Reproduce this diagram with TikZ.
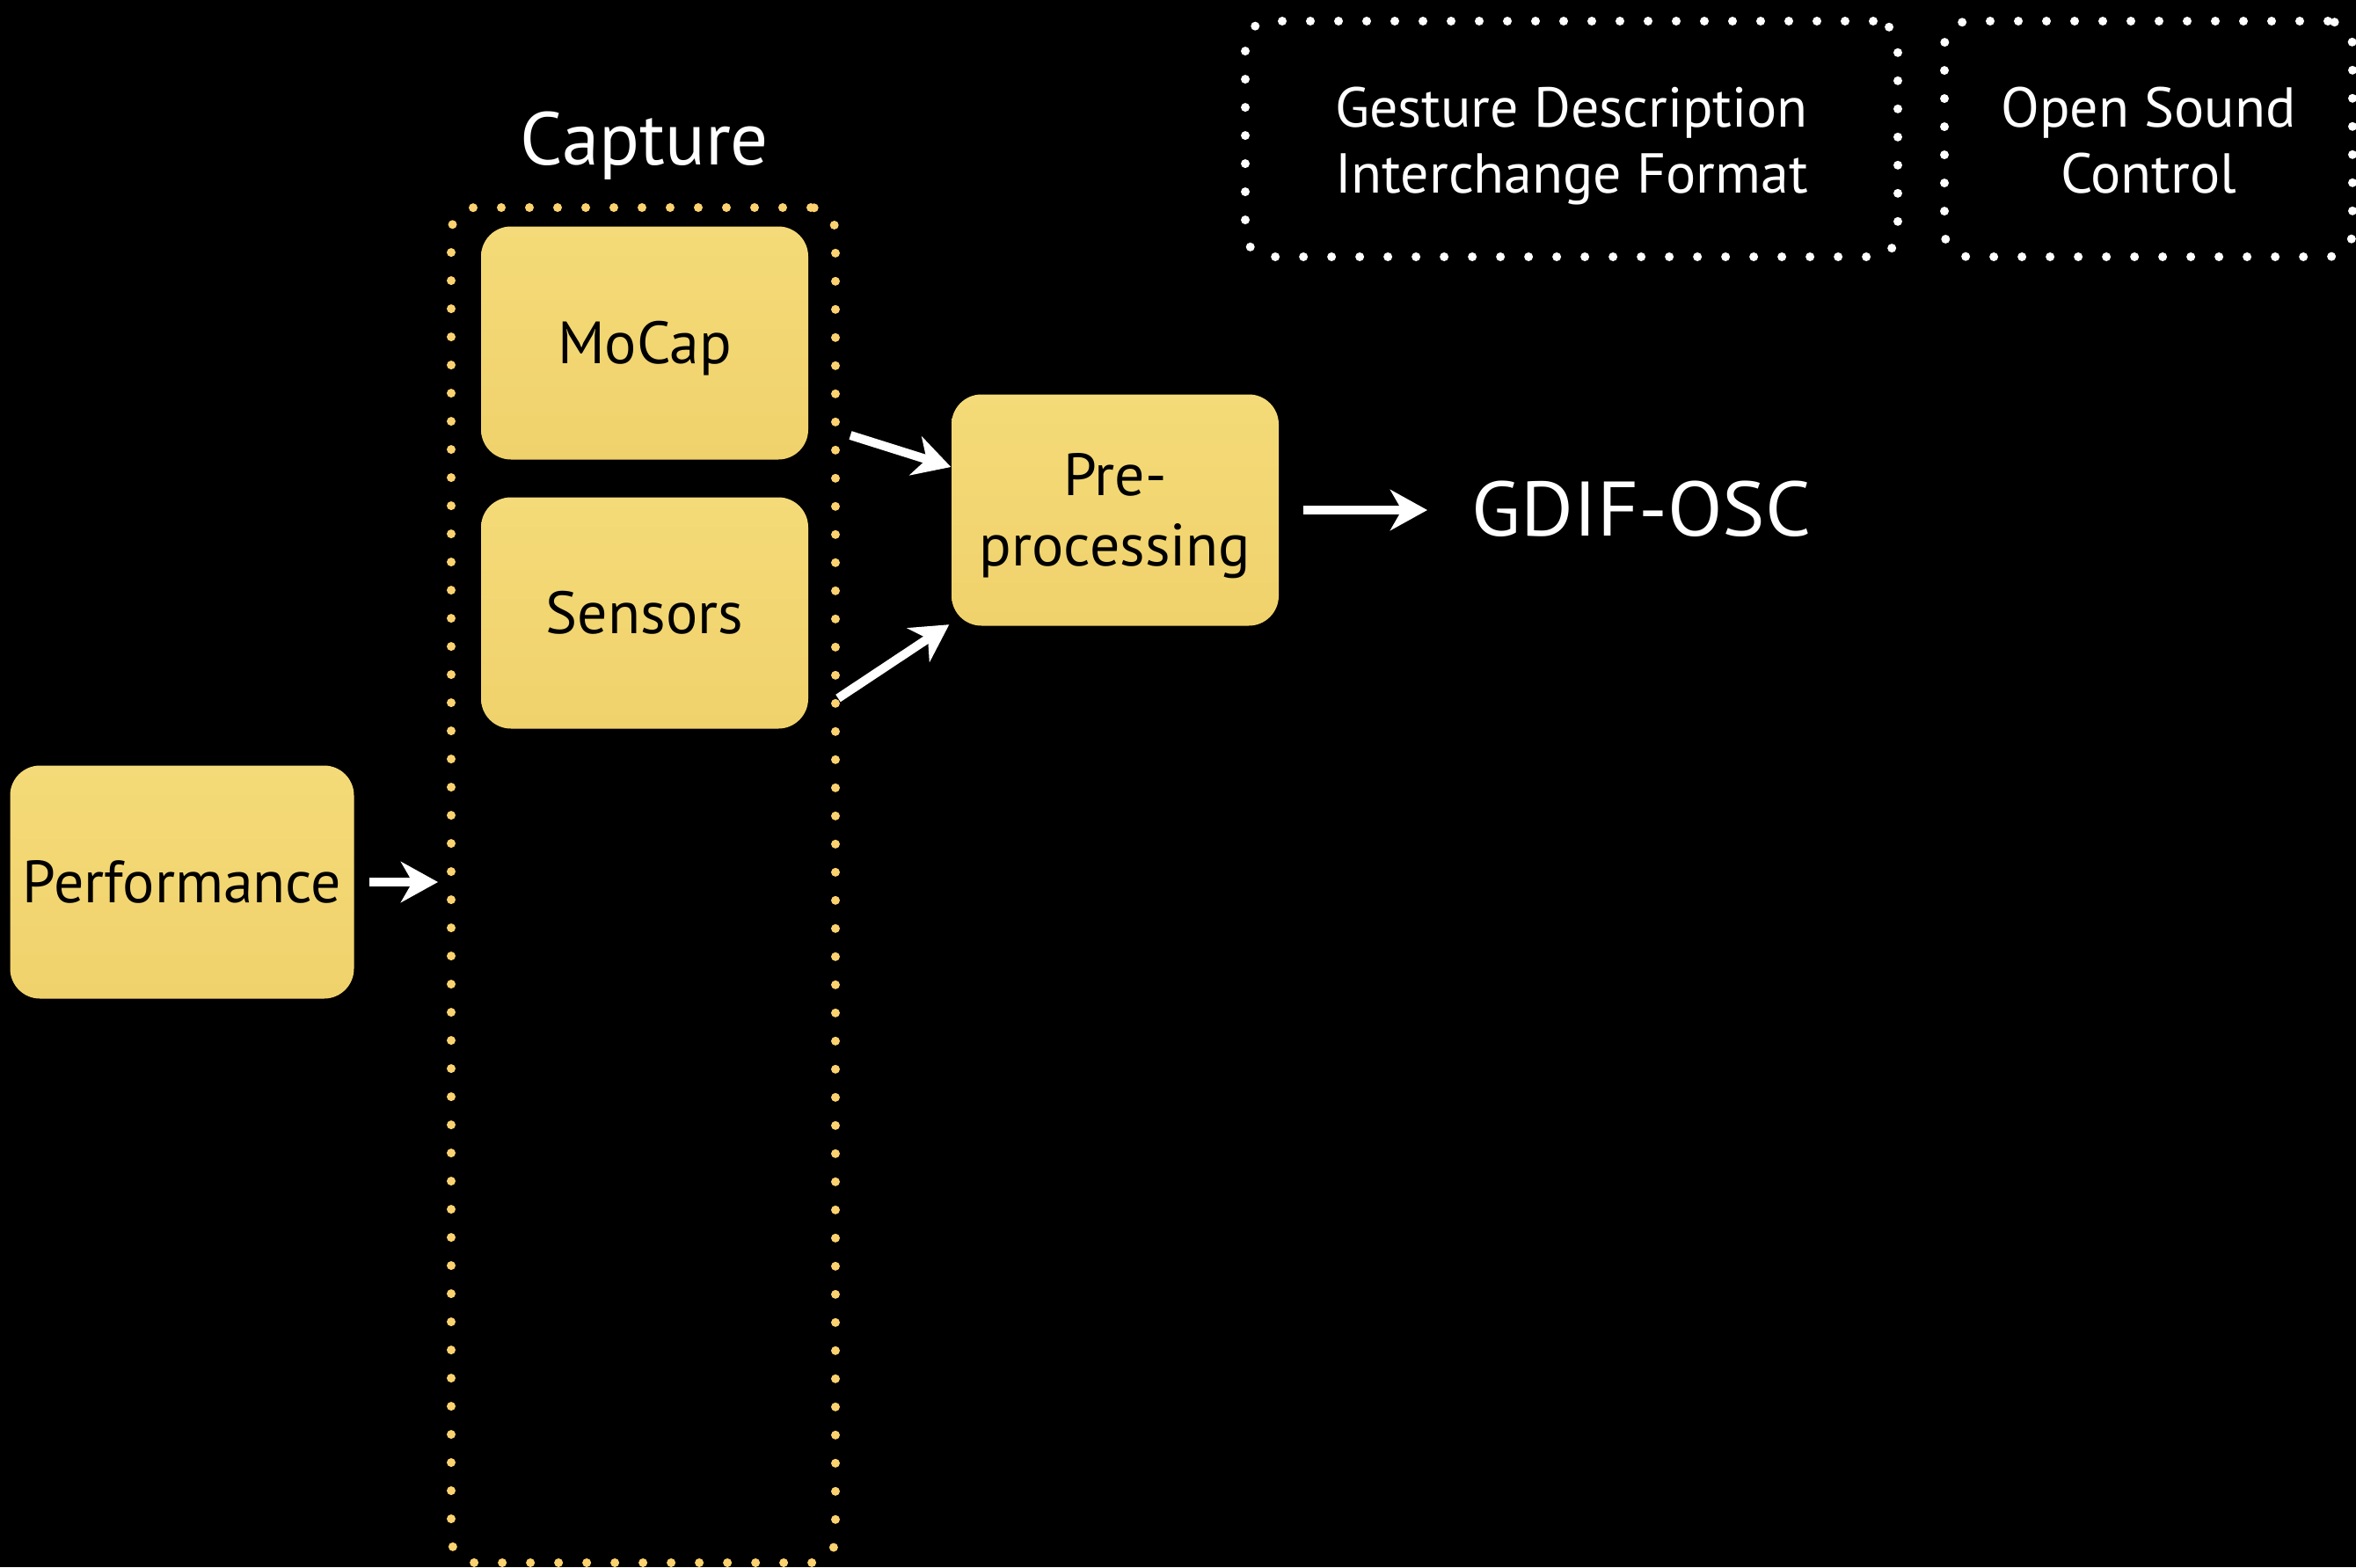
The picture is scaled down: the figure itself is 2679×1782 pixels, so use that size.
\documentclass[tikz,border=0pt]{standalone}
\usepackage{fontspec}
\setmainfont{PT Sans}
\newfontfamily\widesans[FakeStretch=1.04]{PT Sans}
\usetikzlibrary{arrows.meta}
\definecolor{cardyellow}{RGB}{240,210,108}
\definecolor{cardlight}{RGB}{244,218,120}
\definecolor{dotyellow}{RGB}{252,210,112}
\begin{document}
\begin{tikzpicture}[x=0.1mm,y=-0.1mm,
  card/.style={rounded corners=3.4mm, top color=cardlight, bottom color=cardyellow,
    minimum width=37.2mm, minimum height=26.5mm, inner sep=0pt, align=center,
    text=black, font=\fontsize{19.3pt}{22.8pt}\selectfont,
    text height=13.5pt, text depth=0pt},
  dotbox/.style={rounded corners=2.8mm, line width=1mm, line cap=round,
    dash pattern=on 0pt off 3.2mm, inner sep=0pt, align=center},
  boxtext/.style={text=white, font=\fontsize{18.2pt}{21.3pt}\selectfont,
    text height=35pt, text depth=0pt},
  arr/.style={draw=white, line width=1mm,
    -{Stealth[length=4.2mm, width=4.6mm, inset=1.3mm]}}
]
% background and page size
\fill[black] (0,0) rectangle (2679,1782);
\useasboundingbox (0,0) rectangle (2679,1782);

% capture stage
\node[dotbox, draw=dotyellow, minimum width=43.7mm, minimum height=154.1mm] (capture) at (731.5,1006.5) {};
\node[text=white, font=\fontsize{24.2pt}{28pt}\selectfont] (caplabel) at (733,166) {Capture};

% processing blocks
\node[card, minimum width=39.1mm] (perf) at (207,1003) {Performance};
\node[card] (mocap) at (733,390) {MoCap};
\node[card, minimum height=26.3mm] (sensors) at (733,697) {Sensors};
\node[card, minimum height=26.3mm, text height=36.3pt] (pre) at (1268,580) {Pre-\\processing};

% output
\node[text=white, anchor=west, inner sep=0pt, font=\widesans\fontsize{25pt}{28pt}\selectfont] (gdif) at (1673,579) {GDIF-OSC};

% format legends
\node[dotbox, draw=white, boxtext, minimum width=74.2mm, minimum height=26.8mm] (gdifbox) at (1787,158) {Gesture Description\\Interchange Format};
\node[dotbox, draw=white, boxtext, minimum width=46.4mm, minimum height=26.8mm] (oscbox) at (2443,158) {Open Sound\\Control};

% connectors
\coordinate (mstart) at (967,495);
\coordinate (sstart) at (953,794);
\draw[arr, shorten <=1.7mm, shorten >=1.0mm] (perf.east) -- (perf.east -| capture.west);
\draw[arr] (mstart) -- ([yshift=4.9mm]pre.west);
\draw[arr] (sstart) -- ([xshift=-0.2mm,yshift=0.2mm]pre.south west);
\draw[arr, shorten <=2.7mm, shorten >=5mm] (pre.east) -- (pre.east -| gdif.west);
\end{tikzpicture}
\end{document}
